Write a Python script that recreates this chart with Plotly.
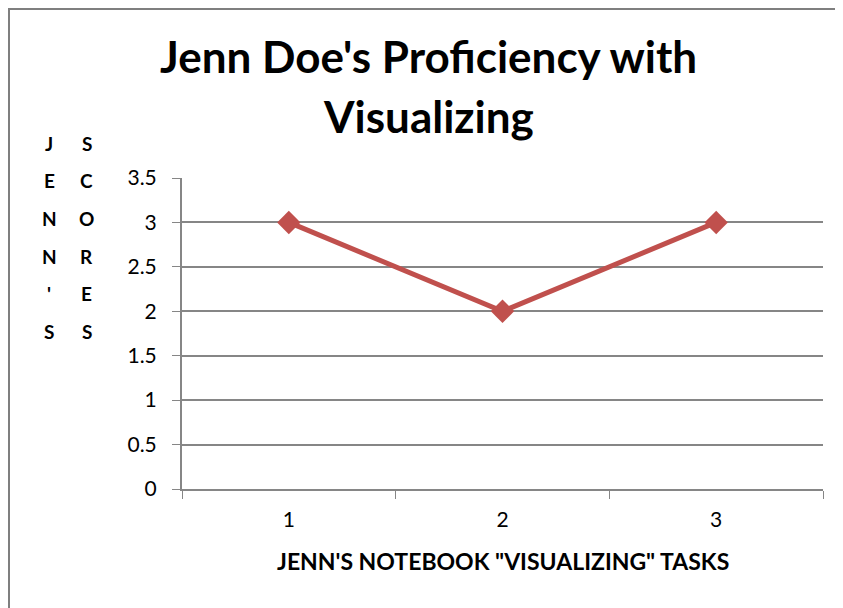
import plotly.graph_objects as go

tasks = ["1", "2", "3"]
scores = [3, 2, 3]
y_ticks = [0, 0.5, 1, 1.5, 2, 2.5, 3, 3.5]
y_tick_text = ["0", "0.5", "1", "1.5", "2", "2.5", "3", "3.5"]
title_lines = ["Jenn Doe's Proficiency with", "Visualizing"]
x_title = "JENN'S NOTEBOOK \"VISUALIZING\" TASKS"
y_title_col1 = "JENN'S"
y_title_col2 = "SCORES"

OFF = 8  # page body margin
W, H = 843 - OFF, 608 - OFF
L, R, T, B = 182, 823, 178, 489  # target page pixel coords of plot area

def px(x):
    return (x - L) / (R - L)

def py(y):
    return (B - y) / (B - T)

FONT = "Lato"
RED = "#C0504D"
GRID = "#868686"

fig = go.Figure()
fig.add_trace(go.Scatter(
    x=tasks, y=scores, mode="lines+markers",
    line=dict(color=RED, width=5),
    marker=dict(symbol="diamond", size=18, color=RED),
    showlegend=False,
))

annotations = []
for line, ty in zip(title_lines, (56, 116)):
    annotations.append(dict(text="<b>" + line + "</b>", x=px(428), y=py(ty), xref="paper",
                            yref="paper", showarrow=False,
                            font=dict(family=FONT, size=44, color="black"),
                            xanchor="center", yanchor="middle"))
annotations.append(dict(text="<b>" + x_title + "</b>", x=px(503), y=py(561), xref="paper",
                        yref="paper", showarrow=False,
                        font=dict(family=FONT, size=23, color="black"),
                        xanchor="center", yanchor="middle"))
rows = [143, 180, 218, 256, 293, 331]
for col_x, word in ((49, y_title_col1), (87, y_title_col2)):
    for ch, ry in zip(word, rows):
        annotations.append(dict(text="<b>" + ch + "</b>", x=px(col_x), y=py(ry), xref="paper",
                                yref="paper", showarrow=False,
                                font=dict(family=FONT, size=19, color="black"),
                                xanchor="center", yanchor="middle"))

shapes = [
    dict(type="line", xref="paper", yref="paper", x0=px(8), x1=px(8), y0=py(8), y1=py(620),
         line=dict(color="#7f7f7f", width=4)),
    dict(type="line", xref="paper", yref="paper", x0=px(6), x1=px(860), y0=py(8), y1=py(8),
         line=dict(color="#7f7f7f", width=4)),
]

fig.update_layout(
    width=W, height=H,
    margin=dict(l=L - OFF, r=843 - R, t=T - OFF, b=608 - B),
    paper_bgcolor="white", plot_bgcolor="white",
    font=dict(family=FONT, size=21, color="black"),
    annotations=annotations, shapes=shapes,
    xaxis=dict(type="category", tickson="boundaries", ticks="outside", ticklen=8,
               tickcolor=GRID, showline=True, linecolor=GRID, linewidth=2,
               showgrid=False, tickfont=dict(size=21, color="black"),
               ticklabelstandoff=11, range=[-0.5, 2.5]),
    yaxis=dict(range=[0, 3.5], tickvals=y_ticks, ticktext=y_tick_text, ticks="outside",
               ticklen=8, tickcolor=GRID, showline=True, linecolor=GRID, linewidth=2,
               showgrid=True, gridcolor=GRID, gridwidth=1.5, zeroline=False,
               tickfont=dict(size=21, color="black"), ticklabelstandoff=11),
)

fig.write_html("out.html")
